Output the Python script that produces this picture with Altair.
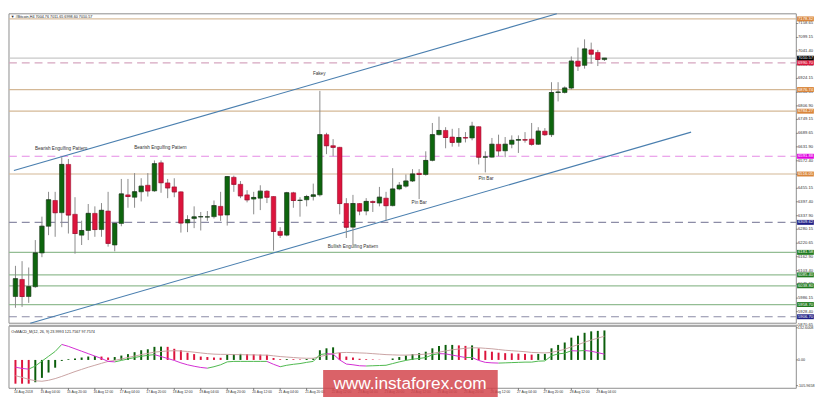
import altair as alt
import pandas as pd

# ---------------- data ----------------
opens = [5993, 6066, 5993, 6035, 6179, 6293, 6403, 6351, 6557, 6344,
         6255, 6275, 6348, 6279, 6358, 6213, 6305, 6427, 6417, 6440,
         6468, 6444, 6564, 6478, 6461, 6440, 6307, 6326, 6333, 6333,
         6334, 6378, 6341, 6502, 6472, 6427, 6409, 6413, 6443, 6420,
         6271, 6255, 6436, 6403, 6406, 6420, 6427, 6684, 6637, 6630,
         6390, 6289, 6390, 6358, 6399, 6392, 6413, 6381, 6452, 6464,
         6486, 6519, 6514, 6574, 6684, 6702, 6674, 6651, 6672, 6670,
         6718, 6588, 6588, 6643, 6615, 6643, 6660, 6663, 6665, 6643,
         6699, 6684, 6864, 6864, 6883, 6998, 6980, 7046, 7035, 7004.76]
highs = [6124, 6144, 6117, 6234, 6334, 6440, 6440, 6588, 6580, 6417,
         6317, 6388, 6378, 6392, 6440, 6309, 6495, 6495, 6520, 6498,
         6520, 6574, 6574, 6495, 6498, 6442, 6340, 6378, 6354, 6358,
         6403, 6440, 6507, 6509, 6486, 6447, 6440, 6468, 6447, 6421,
         6289, 6440, 6440, 6417, 6427, 6475, 6871, 6692, 6665, 6632,
         6413, 6427, 6392, 6413, 6403, 6461, 6440, 6541, 6482, 6514,
         6537, 6537, 6613, 6734, 6761, 6716, 6709, 6712, 6695, 6739,
         6720, 6613, 6670, 6684, 6674, 6681, 6681, 6695, 6734, 6716,
         6712, 6908, 6908, 6890, 7018, 7056, 7091, 7077, 7046, 7011.65]
lows = [5945, 5949, 5966, 6030, 6161, 6255, 6248, 6289, 6262, 6176,
        6213, 6234, 6248, 6248, 6206, 6186, 6293, 6372, 6372, 6399,
        6420, 6440, 6436, 6413, 6417, 6266, 6268, 6285, 6275, 6316,
        6326, 6316, 6296, 6440, 6413, 6395, 6344, 6362, 6392, 6189,
        6243, 6250, 6372, 6334, 6378, 6403, 6420, 6601, 6592, 6344,
        6243, 6213, 6340, 6340, 6354, 6378, 6317, 6378, 6447, 6458,
        6482, 6409, 6509, 6570, 6681, 6626, 6633, 6633, 6651, 6660,
        6557, 6523, 6586, 6592, 6588, 6626, 6606, 6650, 6637, 6640,
        6679, 6674, 6826, 6860, 6877, 6956, 6966, 6987, 6977, 6998.60]
closes = [6069, 5993, 6035, 6179, 6293, 6406, 6351, 6557, 6341, 6262,
          6275, 6348, 6279, 6361, 6220, 6305, 6431, 6420, 6440, 6464,
          6444, 6560, 6479, 6457, 6440, 6307, 6321, 6333, 6334, 6333,
          6381, 6341, 6505, 6472, 6423, 6406, 6416, 6443, 6417, 6271,
          6255, 6436, 6403, 6404, 6420, 6427, 6684, 6637, 6630, 6390,
          6289, 6390, 6358, 6399, 6395, 6417, 6381, 6452, 6468, 6486,
          6516, 6514, 6574, 6684, 6702, 6672, 6651, 6672, 6670, 6720,
          6588, 6589, 6643, 6615, 6643, 6660, 6663, 6661, 6643, 6699,
          6684, 6864, 6866, 6883, 6998, 6977, 7050, 7028, 7005, 7010.57]

macd_hist = [-98, -98, -98, -92, -74, -52, -32, -4, 3, 6,
             10, 14, 16, 14, 10, 12, 18, 24, 32, 40,
             44, 54, 55, 54, 46, 40, 30, 24, 14, 12,
             10, 9, 22, 24, 25, 24, 23, 22, 21, 8,
             3, 3.5, 3, 2, 4, 6, 40, 48, 52, 30,
             14, 10, 5, 3, 2, 1, 0, 6, 12, 18,
             24, 28, 34, 48, 58, 62, 62, 60, 58, 60,
             48, 38, 34, 30, 28, 27, 26, 25, 22, 25,
             25, 48, 62, 72, 92, 100, 112, 118, 120, 121.76]
osma_line = [-30, -35, -38, -25, -5, 15, 35, 64, 56, 46,
             36, 26, 16, 6, -6, -8, -2, 4, 10, 15,
             19, 22, 14, 6, -2, -12, -20, -26, -31, -34,
             -28, -20, -8, -6, -6, -6, -6, -6, -6, -18,
             -28, -22, -18, -15, -10, -6, 22, 26, 24, 0,
             -17, -20, -24, -25, -24, -23, -22, -15, -8, -2,
             3, 6, 10, 21, 26, 25, 20, 15, 10, 10,
             -2, -10, -12, -13, -12, -11, -10, -9, -9, -5,
             -4, 17, 25, 28, 38, 37, 39, 36, 30, 24.0]
signal_line = [-65, -72, -80, -86, -88, -84, -77, -68, -58, -48,
               -39, -30, -22, -14, -6, -2, 4, 10, 16, 22,
               27, 32, 35, 37, 38, 37, 35, 32, 29, 26,
               24, 23, 23, 22, 22, 21, 21, 20, 20, 17,
               14, 12, 10, 8, 7, 7, 14, 20, 26, 30,
               31, 30, 29, 28, 26, 24, 22, 21, 20, 20,
               21, 22, 24, 27, 32, 37, 42, 45, 48, 50,
               50, 48, 46, 43, 40, 38, 36, 34, 31, 30,
               29, 31, 37, 44, 54, 63, 73, 82, 90, 97.76]

x_label_bars = [0, 4, 8, 12, 16, 20, 24, 28, 32, 36, 40, 44, 48, 52, 56, 60, 64, 68, 72, 76, 80, 84, 88]
x_labels = ["14 Aug 2018", "15 Aug 04:00", "15 Aug 20:00", "16 Aug 12:00", "17 Aug 04:00",
            "17 Aug 20:00", "18 Aug 12:00", "19 Aug 04:00", "19 Aug 20:00", "20 Aug 12:00",
            "21 Aug 04:00", "21 Aug 20:00", "22 Aug 12:00", "23 Aug 04:00", "23 Aug 20:00",
            "24 Aug 12:00", "25 Aug 04:00", "25 Aug 20:00", "26 Aug 12:00", "27 Aug 04:00",
            "27 Aug 20:00", "28 Aug 12:00", "29 Aug 04:00"]

price_ticks = [7158.65, 7099.15, 7041.40, 6981.90, 6924.15, 6864.65, 6806.90, 6749.15,
               6689.65, 6631.90, 6572.40, 6514.65, 6455.15, 6397.40, 6337.90, 6280.15,
               6220.65, 6162.90, 6103.40, 6045.65, 5986.15, 5928.40, 5870.65]

level_prices = [7178.32, 7010.57, 6990.70, 6876.74, 6784.27, 6591.88, 6516.05,
                6309.62, 6181.58, 6085.40, 6038.80, 5958.70, 5906.70]
level_line_colors = ["#D9BE9E", "#C8C8C8", "#D6A6C0", "#D4B896", "#D4B896", "#E58BE5", "#D4B896",
                     "#8C8CA6", "#93BD93", "#93BD93", "#93BD93", "#93BD93", "#8C8CA6"]
level_dashed = [False, False, True, False, False, True, False,
                True, False, False, False, False, True]
level_box_colors = ["#D9853B", "#000000", "#DC143C", "#D9853B", "#D9853B", "#E000E0", "#D9853B",
                    "#1E1E86", "#1F7A1F", "#1F7A1F", "#1F7A1F", "#1F7A1F", "#1E1E86"]

channel_ids = ["upper", "upper", "lower", "lower"]
channel_bars = [-0.233, 81.8, 2.24, 102.1]
channel_prices = [6531.2, 7200.0, 5879.0, 6695.0]

note_texts = ["Bearish Engulfing Pattern", "Bearish Engulfing Pattern", "Fakey",
              "Bullish Engulfing Pattern", "Pin Bar", "Pin Bar"]
note_bars = [6.9, 21.9, 45.9, 51.0, 61.0, 71.1]
note_prices = [6623, 6629, 6943, 6206, 6392, 6495]

macd_tick_values = [132.6008, 0.0, -105.9658]
macd_tick_labels = ["132.6008", "0.00", "-105.9658"]

header_main = "\u25BC #Bitcoin,H4  7004.76 7011.65 6998.60 7010.57"
header_macd = "OsMACD_M(12, 26, 9) 23.9993 121.7567 97.7574"
watermark = "www.instaforex.com"

# ---------------- layout (single view, two stacked panels) ----------------
W = 799
TOTAL_H = 381
MAIN_BOTTOM = 314
MACD_TOP = 317
MACD_BOTTOM = 380
FONT = "Liberation Sans"

xs = alt.Scale(domain=[-0.233, 117.25], nice=False, zero=False)
ps = alt.Scale(domain=[5879.0, 7200.0], range=[MAIN_BOTTOM, 0], nice=False, zero=False)
ms = alt.Scale(domain=[-116.9, 139.3], range=[MACD_BOTTOM, MACD_TOP], nice=False, zero=False)

n = len(opens)
candles = pd.DataFrame({
    "i": list(range(n)), "open": opens, "high": highs, "low": lows, "close": closes,
})
candles["fill"] = ["#0D650D" if c >= o else "#DC143C" for o, c in zip(opens, closes)]
candles["edge"] = ["#1E3A1E" if c >= o else "#9E1030" for o, c in zip(opens, closes)]

XI = alt.X("i:Q", scale=xs, axis=None)
YP = alt.Y("price:Q", scale=ps, axis=None)

one = pd.DataFrame({"t": [0]})

frames = alt.Chart(pd.DataFrame({"y0": [0, MACD_TOP], "y1": [MAIN_BOTTOM, MACD_BOTTOM]})).mark_rect(
    fill="white", stroke="#8C8C8C", strokeWidth=1).encode(
    x=alt.value(0), x2=alt.value(W), y=alt.Y("y0:Q", scale=None, axis=None), y2="y1:Q")

sep = alt.Chart(one).mark_rule(color="#A8A8A8", strokeWidth=2).encode(
    x=alt.value(0), x2=alt.value(W), y=alt.value(MACD_TOP - 0.5))

wicks = alt.Chart(candles).mark_rule(color="#8A8A8A", strokeWidth=1).encode(
    x=XI, y=alt.Y("low:Q", scale=ps, axis=None), y2="high:Q")
bodies = alt.Chart(candles).mark_bar(size=4.6, strokeWidth=0.6).encode(
    x=XI, y=alt.Y("open:Q", scale=ps, axis=None), y2="close:Q",
    color=alt.Color("fill:N", scale=None), stroke=alt.Stroke("edge:N", scale=None))
doji = alt.Chart(candles).mark_tick(orient="horizontal", size=4.6, thickness=1).encode(
    x=XI, y=alt.Y("close:Q", scale=ps, axis=None), color=alt.Color("edge:N", scale=None))

levels = pd.DataFrame({"price": level_prices, "line": level_line_colors,
                       "dashed": level_dashed, "box": level_box_colors})
levels["label"] = [f"{v:.2f}" for v in level_prices]

solid_levels = alt.Chart(levels).transform_filter("!datum.dashed").mark_rule(strokeWidth=1.2).encode(
    x=alt.value(0), x2=alt.value(W), y=YP, color=alt.Color("line:N", scale=None))
dashed_levels = alt.Chart(levels).transform_filter("datum.dashed").mark_rule(
    strokeWidth=1.2, strokeDash=[8, 5]).encode(
    x=alt.value(0), x2=alt.value(W), y=YP, color=alt.Color("line:N", scale=None))

channel = pd.DataFrame({"cid": channel_ids, "bar": channel_bars, "price": channel_prices})
channel_lines = alt.Chart(channel).mark_line(color="#4A7FAF", strokeWidth=1.1).encode(
    x=alt.X("bar:Q", scale=xs, axis=None), y=YP, detail="cid:N")

notes = pd.DataFrame({"t": note_texts, "bar": note_bars, "price": note_prices})
note_layer = alt.Chart(notes).mark_text(fontSize=4.7, color="#333333", font=FONT,
                                        align="center", baseline="middle").encode(
    x=alt.X("bar:Q", scale=xs, axis=None), y=YP, text="t:N")

ticks = pd.DataFrame({"price": price_ticks})
ticks["label"] = [f"{v:.2f}" for v in price_ticks]
tick_marks = alt.Chart(ticks).mark_rule(color="#555555", strokeWidth=0.8).encode(
    x=alt.value(W), x2=alt.value(W + 1.5), y=YP)
tick_labels = alt.Chart(ticks).mark_text(fontSize=4.2, color="#333333", font=FONT,
                                         align="left", baseline="middle").encode(
    x=alt.value(W + 1.8), y=YP, text="label:N")

boxes = alt.Chart(levels).mark_rule(strokeWidth=5).encode(
    x=alt.value(W + 0.8), x2=alt.value(W + 17.8), y=YP, color=alt.Color("box:N", scale=None))
box_labels = alt.Chart(levels).mark_text(fontSize=4.2, color="white", font=FONT,
                                         align="left", baseline="middle").encode(
    x=alt.value(W + 1.8), y=YP, text="label:N")

head = alt.Chart(pd.DataFrame({"t": [header_main]})).mark_text(
    fontSize=3.8, color="#222222", font=FONT, align="left", baseline="middle").encode(
    x=alt.value(1.7), y=alt.value(3.6), text="t:N")

# ---------------- MACD panel ----------------
hcol = []
for k in range(n):
    if k == 0:
        hcol.append("#DC143C")
    elif macd_hist[k] > macd_hist[k - 1]:
        hcol.append("#0B5E0B")
    elif macd_hist[k] < macd_hist[k - 1]:
        hcol.append("#DC143C")
    else:
        hcol.append(hcol[-1])
md = pd.DataFrame({"i": list(range(n)), "macd": macd_hist, "sig": signal_line,
                   "zero": [0.0] * n, "hcol": hcol})

seg = pd.DataFrame({
    "a": list(range(n - 1)), "b": list(range(1, n)),
    "ya": osma_line[:-1], "yb": osma_line[1:],
})
seg["col"] = ["#4DB84D" if osma_line[k + 1] >= osma_line[k] else "#D22CD2" for k in range(n - 1)]

hist = alt.Chart(md).mark_rule(strokeWidth=2).encode(
    x=XI, y=alt.Y("zero:Q", scale=ms, axis=None), y2="macd:Q", color=alt.Color("hcol:N", scale=None))
sig = alt.Chart(md).mark_line(color="#C9A3A3", strokeWidth=1).encode(
    x=XI, y=alt.Y("sig:Q", scale=ms, axis=None))
osma = alt.Chart(seg).mark_rule(strokeWidth=1).encode(
    x=alt.X("a:Q", scale=xs, axis=None), x2="b:Q",
    y=alt.Y("ya:Q", scale=ms, axis=None), y2="yb:Q", color=alt.Color("col:N", scale=None))

mt = pd.DataFrame({"v": macd_tick_values, "label": macd_tick_labels})
m_ticks = alt.Chart(mt).mark_rule(color="#555555", strokeWidth=0.8).encode(
    x=alt.value(W), x2=alt.value(W + 1.5), y=alt.Y("v:Q", scale=ms, axis=None))
m_labels = alt.Chart(mt).mark_text(fontSize=3.8, color="#333333", font=FONT,
                                   align="left", baseline="middle").encode(
    x=alt.value(W + 1.5), y=alt.Y("v:Q", scale=ms, axis=None), text="label:N")

xl = pd.DataFrame({"bar": x_label_bars, "lab": x_labels})
x_tick = alt.Chart(xl).mark_rule(color="#555555", strokeWidth=0.8).encode(
    x=alt.X("bar:Q", scale=xs, axis=None), y=alt.value(MACD_BOTTOM), y2=alt.value(MACD_BOTTOM + 2))
x_text = alt.Chart(xl).mark_text(fontSize=3.4, color="#333333", font=FONT,
                                 align="left", baseline="middle", dx=-1.5).encode(
    x=alt.X("bar:Q", scale=xs, axis=None), y=alt.value(MACD_BOTTOM + 4), text="lab:N")

mhead = alt.Chart(pd.DataFrame({"t": [header_macd]})).mark_text(
    fontSize=3.8, color="#222222", font=FONT, align="left", baseline="middle").encode(
    x=alt.value(2.3), y=alt.value(MACD_TOP + 6), text="t:N")

wm = pd.DataFrame({"t": [watermark]})
wm_box = alt.Chart(wm).mark_rect(color="#D4464E", opacity=0.85).encode(
    x=alt.value(318.8), x2=alt.value(496), y=alt.value(361.4), y2=alt.value(389))
wm_text = alt.Chart(wm).mark_text(fontSize=17.5, color="white", font=FONT,
                                  align="center", baseline="middle").encode(
    x=alt.value(407), y=alt.value(375.6), text="t:N")

chart = alt.layer(
    frames, sep,
    solid_levels, dashed_levels, channel_lines, wicks, bodies, doji,
    note_layer, tick_marks, tick_labels, boxes, box_labels, head,
    hist, sig, osma, m_ticks, m_labels, x_tick, x_text, mhead, wm_box, wm_text,
).resolve_scale(y="independent").properties(
    width=W, height=TOTAL_H, padding=0, background="white",
).configure_view(stroke=None)

chart.save("out.html", embed_options={"renderer": "svg", "actions": False})
